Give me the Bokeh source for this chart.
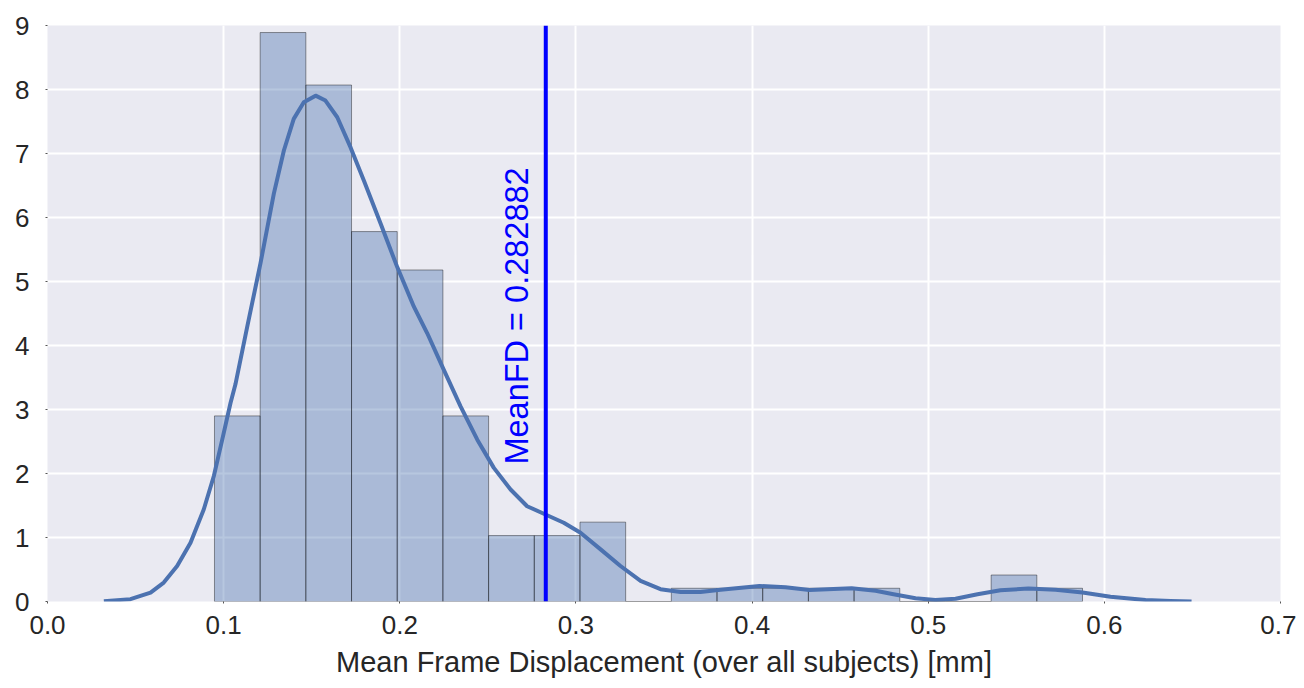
import numpy as np
from bokeh.plotting import figure
from bokeh.models import Range1d, FixedTicker, Span
from bokeh.core.properties import value
from bokeh.embed import file_html
from bokeh.resources import INLINE

# Histogram (density)
bin_min = 0.0948
bin_max = 0.5876
n_bins = 19
bar_heights = [2.90, 8.89, 8.07, 5.78, 5.18, 2.90, 1.03, 1.03, 1.24, 0.0,
               0.207, 0.207, 0.207, 0.207, 0.207, 0.0, 0.0, 0.414, 0.207]

# KDE curve
kde_x = [0.0320, 0.0471, 0.0585, 0.0660, 0.0736, 0.0812, 0.0887, 0.0944, 0.0992,
         0.1039, 0.1067, 0.1134, 0.1209, 0.1285, 0.1342, 0.1398, 0.1455, 0.1522,
         0.1578, 0.1645, 0.1720, 0.1796, 0.1891, 0.1985, 0.2080, 0.2156, 0.2250,
         0.2345, 0.2440, 0.2534, 0.2629, 0.2723, 0.2827, 0.2931, 0.3026, 0.3140,
         0.3253, 0.3367, 0.3480, 0.3594, 0.3707, 0.3821, 0.4042, 0.4190, 0.4326,
         0.4565, 0.4701, 0.4803, 0.4928, 0.5041, 0.5155, 0.5280, 0.5410, 0.5569,
         0.5723, 0.5876, 0.6035, 0.6234, 0.6376, 0.6495]
kde_y = [0.005, 0.036, 0.140, 0.296, 0.555, 0.919, 1.438, 1.957, 2.529,
         3.101, 3.394, 4.294, 5.282, 6.373, 7.047, 7.541, 7.800, 7.904,
         7.827, 7.566, 7.099, 6.580, 5.905, 5.229, 4.606, 4.191, 3.620,
         3.048, 2.529, 2.088, 1.750, 1.488, 1.360, 1.231, 1.075, 0.815,
         0.555, 0.321, 0.192, 0.150, 0.150, 0.184, 0.243, 0.223, 0.181,
         0.207, 0.168, 0.114, 0.051, 0.025, 0.044, 0.114, 0.176, 0.203,
         0.184, 0.140, 0.075, 0.025, 0.008, 0.0]

mean_fd = 0.282882
x_ticks = [0.0, 0.1, 0.2, 0.3, 0.4, 0.5, 0.6, 0.7]
y_ticks = [0, 1, 2, 3, 4, 5, 6, 7, 8, 9]
x_label = "Mean Frame Displacement (over all subjects) [mm]"

edges = np.linspace(bin_min, bin_max, n_bins + 1)

FONT = "Liberation Sans"
p = figure(width=1296, height=680, output_backend="svg", toolbar_location=None,
           x_range=Range1d(0, 0.7), y_range=Range1d(0, 9),
           min_border_left=47, min_border_right=16, min_border_top=25,
           min_border_bottom=78)
p.background_fill_color = "#EAEAF2"
p.border_fill_color = "white"
p.outline_line_color = None

for ax in (p.xaxis, p.yaxis):
    ax.axis_line_color = None
    ax.major_tick_line_color = "#555555"
    ax.major_tick_out = 2
    ax.major_tick_in = 0
    ax.minor_tick_line_color = None
    ax.major_label_text_font = FONT
    ax.major_label_text_font_size = "26px"
    ax.major_label_text_color = "#262626"

p.xaxis.ticker = FixedTicker(ticks=x_ticks)
p.yaxis.ticker = FixedTicker(ticks=y_ticks)
p.xaxis.major_label_overrides = {t: f"{t:.1f}" for t in x_ticks}
p.xaxis.major_label_standoff = 12
p.yaxis.major_label_standoff = 16
p.xaxis.axis_label = x_label
p.xaxis.axis_label_text_font = FONT
p.xaxis.axis_label_text_font_size = "29px"
p.xaxis.axis_label_text_font_style = "normal"
p.xaxis.axis_label_text_color = "#262626"
p.xaxis.axis_label_standoff = 9

p.xgrid.grid_line_color = "white"
p.ygrid.grid_line_color = "white"
p.xgrid.grid_line_width = 2
p.ygrid.grid_line_width = 2

p.quad(left=edges[:-1], right=edges[1:], bottom=0, top=bar_heights,
       fill_color="#4C72B0", fill_alpha=0.4,
       line_color="black", line_alpha=0.4, line_width=1)

p.line(kde_x, kde_y, line_color="#4C72B0", line_width=4, line_join="round")

p.add_layout(Span(location=mean_fd, dimension="height",
                  line_color="#0000FF", line_width=4))

p.text(x=[0.2668], y=[2.14], text=[f"MeanFD = {mean_fd:g}"],
       angle=np.pi / 2, text_font=value(FONT), text_font_size="32.5px",
       text_color="#0000FF", text_align="left", text_baseline="alphabetic")

open("out.html", "w").write(file_html(p, INLINE))
